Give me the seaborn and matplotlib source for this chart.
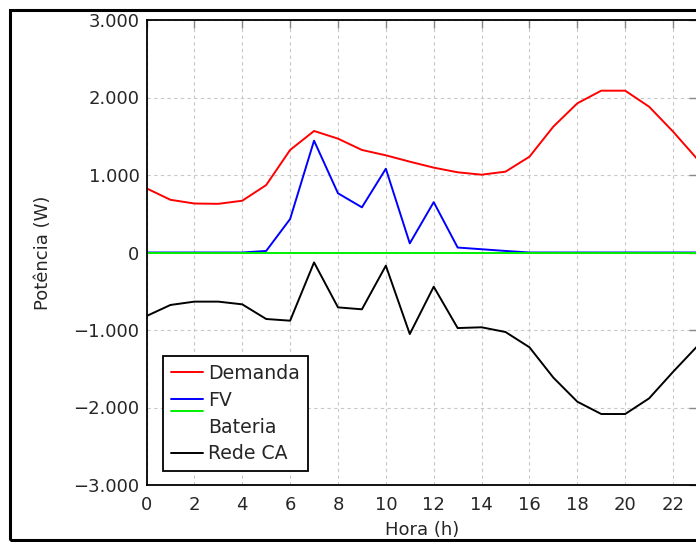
import matplotlib
matplotlib.use("Agg")
import matplotlib.pyplot as plt
import matplotlib.ticker as mticker
from matplotlib.patches import Rectangle
from matplotlib.legend_handler import HandlerLine2D
from matplotlib.transforms import Affine2D
import seaborn as sns
import pandas as pd

hours = list(range(24))
demanda = [828, 680, 632, 628, 668, 870, 1323, 1568, 1469, 1323, 1254, 1172,
           1095, 1035, 1004, 1043, 1236, 1625, 1925, 2088, 2088, 1881, 1560, 1210]
fv = [0, 0, 0, 0, 0, 20, 432, 1443, 764, 583, 1081, 118,
      650, 64, 42, 20, 0, 0, 0, 0, 0, 0, 0, 0]
bateria = [0] * 24
rede_ca = [-820, -677, -634, -634, -669, -858, -880, -128, -708, -733, -170, -1052,
           -441, -975, -965, -1026, -1223, -1615, -1925, -2084, -2084, -1882, -1540, -1213]

series_names = ["Demanda", "FV", "Bateria", "Rede CA"]
colors = ["#ff0000", "#0000ff", "#00f000", "#000000"]
ytick_vals = [-3000, -2000, -1000, 0, 1000, 2000, 3000]
xtick_vals = list(range(0, 24, 2))

df = pd.concat([
    pd.DataFrame({"Hora": hours, "Potencia": vals, "Serie": name})
    for name, vals in zip(series_names, [demanda, fv, bateria, rede_ca])
])

sns.set_style("white")
plt.rcParams["font.family"] = ["DejaVu Sans"]

fig = plt.figure(figsize=(6.96, 5.42), dpi=100)
fig.patches.append(Rectangle((10/696, 2/542), 1.0, 530/542, transform=fig.transFigure,
                             fill=False, edgecolor="black", linewidth=2.2, zorder=0))
ax = fig.add_axes([146.5/696, 57/542, 550.5/696, 465/542])

sns.lineplot(data=df, x="Hora", y="Potencia", hue="Serie", hue_order=series_names,
             palette=dict(zip(series_names, colors)), linewidth=1.4, ax=ax,
             legend=True)

ax.set_xlim(0, 23)
ax.set_ylim(-3000, 3000)
ax.set_xticks(xtick_vals)
ax.set_yticks(ytick_vals)

def fmt(v, pos):
    v = int(round(v))
    s = f"{abs(v):,}".replace(",", ".")
    return ("\u2212" + s) if v < 0 else s

ax.yaxis.set_major_formatter(mticker.FuncFormatter(fmt))
ax.grid(True, linestyle=(0, (3, 3)), color="#c8c8c8", linewidth=0.8)
ax.tick_params(direction="in", length=6, width=1, color="#888888",
               labelsize=13, top=True, right=True)
ax.tick_params(axis="x", pad=8)
ax.tick_params(axis="y", pad=5)
for sp in ax.spines.values():
    sp.set_color("black")
    sp.set_linewidth(1.3)

ax.set_xlabel("Hora (h)", fontsize=13)
ax.set_ylabel("Potência (W)", fontsize=13)
ax.yaxis.set_label_coords(-0.172, 0.5)
ax.xaxis.set_label_coords(0.5, -0.077)


class ShiftedHandler(HandlerLine2D):
    def __init__(self, shift, **kw):
        super().__init__(**kw)
        self.shift = shift

    def create_artists(self, legend, orig_handle, xdescent, ydescent, width,
                       height, fontsize, trans):
        arts = super().create_artists(legend, orig_handle, xdescent, ydescent,
                                      width, height, fontsize, trans)
        for a in arts:
            a.set_transform(trans + Affine2D().translate(0, self.shift))
        return arts


handles, labels = ax.get_legend_handles_labels()
hmap = {h: ShiftedHandler(15) for h, l in zip(handles, labels) if l == "Bateria"}
leg = ax.legend(handles, labels, loc="lower left", bbox_to_anchor=(0.03, 0.03),
                fontsize=13.6, frameon=True, fancybox=False, framealpha=1,
                edgecolor="black", handlelength=1.7, handletextpad=0.3,
                borderpad=0.4, labelspacing=0.42, borderaxespad=0,
                handler_map=hmap)
leg.get_frame().set_linewidth(1.3)

fig.savefig("out.png", dpi=100)
